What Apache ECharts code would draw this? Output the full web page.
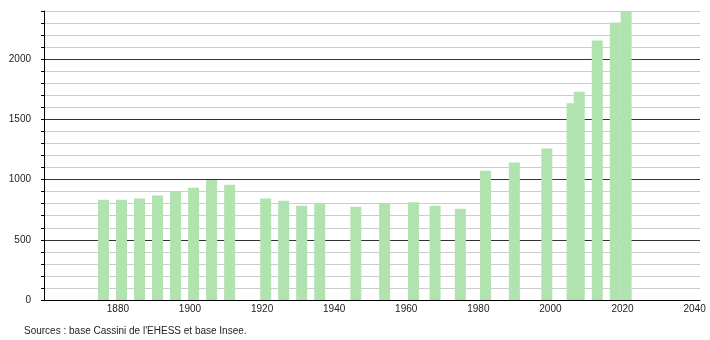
<!DOCTYPE html>
<html>
<head>
<meta charset="utf-8">
<script src="https://cdn.jsdelivr.net/npm/echarts@6/dist/echarts.min.js"></script>
<style>html,body{margin:0;padding:0;background:#fff}#c{width:710px;height:340px}</style>
</head>
<body>
<div id="c"></div>
<script>
var years = [1876,1881,1886,1891,1896,1901,1906,1911,1921,1926,1931,1936,1946,1954,1962,1968,1975,1982,1990,1999,2006,2008,2013,2018,2021];
var population = [833,833,842,867,897,933,997,958,842,825,783,800,775,800,811,783,758,1073,1142,1258,1633,1730,2156,2305,2392];
var xTickLabels = [1880,1900,1920,1940,1960,1980,2000,2020,2040];
var yTickLabels = [0,500,1000,1500,2000];
var sourceText = "Sources : base Cassini de l'EHESS et base Insee.";

var font = "'Liberation Sans', Arial, sans-serif";
var chart = echarts.init(document.getElementById('c'), null, {renderer: 'canvas'});
chart.setOption({
  animation: false,
  backgroundColor: '#fff',
  textStyle: {fontFamily: font},
  title: {
    text: sourceText,
    left: 19, top: 321,
    textStyle: {fontSize: 10, fontWeight: 'normal', color: '#222', fontFamily: font}
  },
  grid: {left: 44, right: 10, top: 11, bottom: 40},
  xAxis: {
    type: 'value',
    min: 1859.5, max: 2041.5,
    axisLine: {show: true, lineStyle: {color: '#000', width: 1}},
    axisTick: {show: false},
    splitLine: {show: false},
    axisLabel: {
      customValues: xTickLabels,
      fontSize: 10, color: '#222', margin: 4, fontFamily: font,
      formatter: function (v) { return String(v); }
    }
  },
  yAxis: {
    type: 'value',
    min: 0, max: 2400, interval: 100,
    axisLine: {show: true, lineStyle: {color: '#000', width: 1}},
    axisTick: {show: true, length: 3, lineStyle: {color: '#000'}},
    axisLabel: {
      fontSize: 10, color: '#222', margin: 13, fontFamily: font,
      formatter: function (v) { return yTickLabels.indexOf(v) >= 0 ? String(v) : ''; }
    },
    splitLine: {show: true, lineStyle: {color: ['#333','#cccccc','#cccccc','#cccccc','#cccccc'], width: 1}}
  },
  series: [{
    type: 'bar',
    barWidth: 11,
    itemStyle: {color: '#b0e3b0'},
    data: years.map(function (y, i) { return [y, population[i]]; })
  }]
});
</script>
</body>
</html>
